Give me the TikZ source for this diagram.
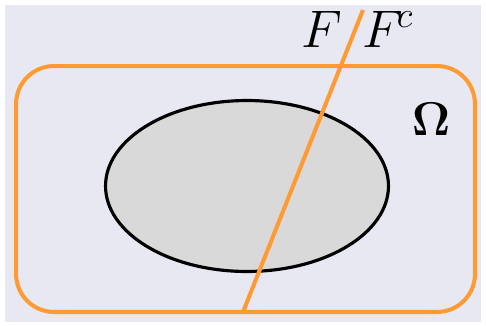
\documentclass[tikz,border=0pt]{standalone}
\usepackage{amsmath}
\usepackage{amssymb}
\usetikzlibrary{shapes.geometric, positioning}
\definecolor{bgcol}{RGB}{232,232,242}
\definecolor{setorange}{RGB}{255,155,50}
\definecolor{eventgray}{RGB}{217,217,217}
\newcommand{\biglbl}[1]{\scalebox{1.45}{\huge #1}}
\begin{document}
\begin{tikzpicture}[x=0.02cm,y=-0.02cm,
    sample/.style={draw=setorange, line width=2.3pt, rounded corners=0.76cm,
      minimum width=9.18cm, minimum height=4.92cm, inner sep=0pt},
    event/.style={ellipse, draw=black, fill=eventgray, line width=1.8pt,
      minimum width=5.66cm, minimum height=3.42cm, inner sep=0pt},
    lbl/.style={anchor=base, inner sep=0pt}]

    \useasboundingbox (0,0) rectangle (486,325);
    \fill[bgcol] (5,5) rectangle (481,322);

    \node[sample] (omega) at (245.5,189) {};
    \node[event] (A) at (247,186) {};

    \coordinate (cutbot) at (243,312);
    \coordinate (cuttop) at (363,10);
    \draw[setorange, line width=2.3pt] (cutbot) -- (cuttop);

    \node[lbl] (F) at (322,47) {\biglbl{$F$}};
    \node[lbl] (Fc) at (388,47) {\biglbl{$F^{\!c}$}};
    \node[lbl] (Om) at (431,135) {\scalebox{1.3}{\huge $\mathbf{\Omega}$}};
  \end{tikzpicture}
\end{document}
